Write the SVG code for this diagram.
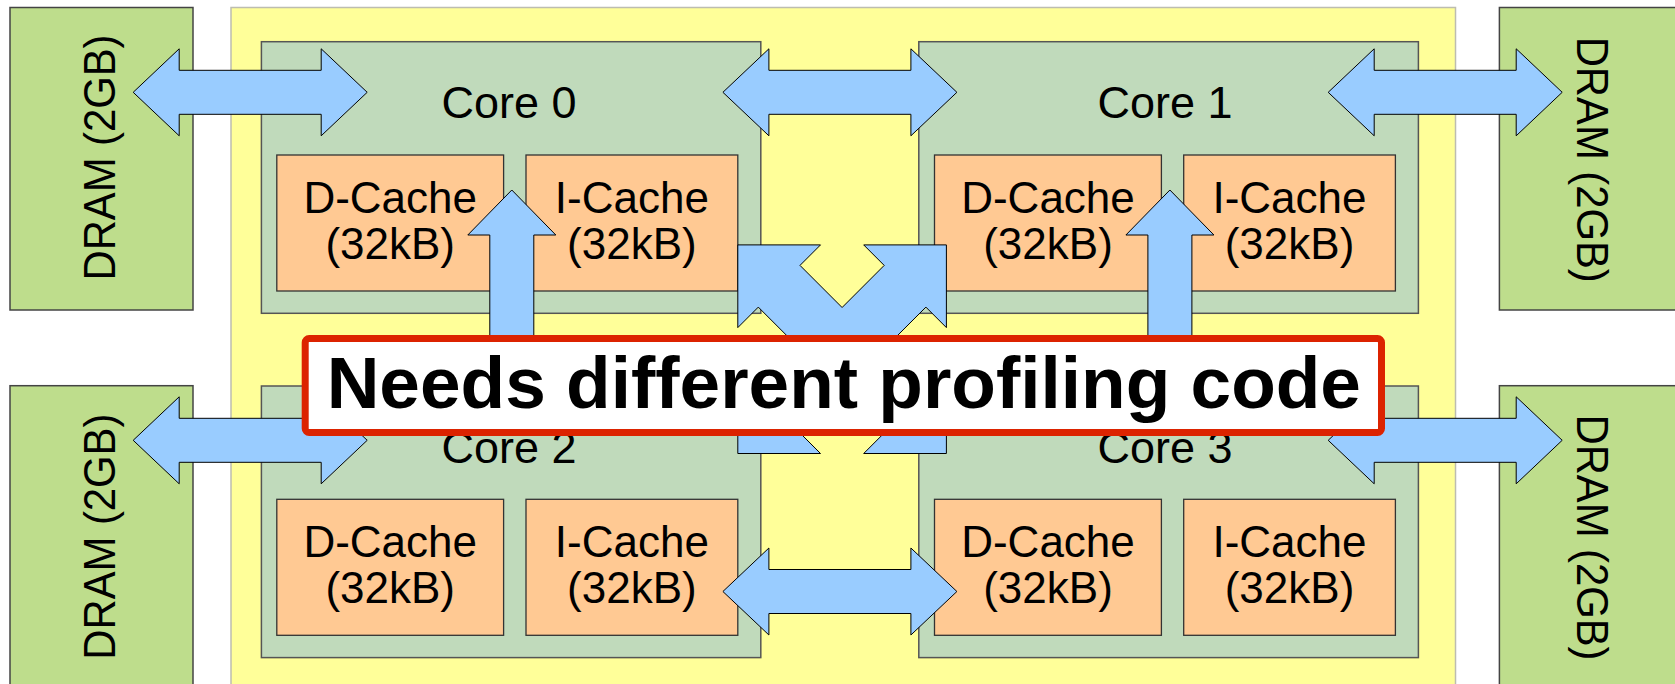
<svg xmlns="http://www.w3.org/2000/svg" xmlns:xlink="http://www.w3.org/1999/xlink" width="1675" height="684" viewBox="0 0 1675 684">
<style>
.chip{fill:#ffff99;stroke:#bdbdb0;stroke-width:1.5}
.dram{fill:#bedd8c;stroke:#444;stroke-width:1.5}
.core{fill:#c0dabb;stroke:#555;stroke-width:1.5}
.cache{fill:#ffc993;stroke:#333;stroke-width:1.3}
.arrow{fill:#99ccff;stroke:#000;stroke-width:1}
.t{font-family:"Liberation Sans",Arial,sans-serif;fill:#000;text-anchor:middle}
.tc{font-size:45px}
.tk{font-size:44px}
.td{font-size:45px}
.lbl{fill:#fff;stroke:#dc2300;stroke-width:7}
.tl{font-family:"Liberation Sans",Arial,sans-serif;font-weight:bold;font-size:73px;text-anchor:middle;fill:#000}
</style>
<defs>
<path id="harrow" d="M0,0 L46,-43.5 L46,-22 L188,-22 L188,-43.5 L234,0 L188,43.5 L188,22 L46,22 L46,43.5 Z"/>
<path id="varrow" d="M0,0 L44,45 L22,45 L22,230 L-22,230 L-22,45 L-44,45 Z"/>
</defs>
<rect id="chip" class="chip" x="231" y="7.5" width="1224.5" height="690"/>
<g id="dram0"><rect class="dram" x="10" y="7.5" width="183" height="302.5"/><text class="t td" transform="translate(115,157.5) rotate(-90)" textLength="246" lengthAdjust="spacingAndGlyphs">DRAM (2GB)</text></g>
<g id="dram1"><rect class="dram" x="1499.4" y="7.5" width="183" height="302.5"/><text class="t td" transform="translate(1576.6,159.7) rotate(90)" textLength="246" lengthAdjust="spacingAndGlyphs">DRAM (2GB)</text></g>
<g id="dram2"><rect class="dram" x="10" y="385.7" width="183" height="302.5"/><text class="t td" transform="translate(115,536.7) rotate(-90)" textLength="246" lengthAdjust="spacingAndGlyphs">DRAM (2GB)</text></g>
<g id="dram3"><rect class="dram" x="1499.4" y="385.7" width="183" height="302.5"/><text class="t td" transform="translate(1576.6,537.5) rotate(90)" textLength="246" lengthAdjust="spacingAndGlyphs">DRAM (2GB)</text></g>
<g id="core0"><rect class="core" x="261.4" y="41.7" width="499.4" height="271.6"/><text class="t tc" x="509" y="118.3">Core 0</text></g>
<g id="core1"><rect class="core" x="918.8" y="41.7" width="499.6" height="271.6"/><text class="t tc" x="1165" y="118.3">Core 1</text></g>
<g id="core2"><rect class="core" x="261.4" y="386" width="499.4" height="271.6"/><text class="t tc" x="509" y="462.6">Core 2</text></g>
<g id="core3"><rect class="core" x="918.8" y="386" width="499.6" height="271.6"/><text class="t tc" x="1165" y="462.6">Core 3</text></g>
<g id="dcache0"><rect class="cache" x="276.8" y="155" width="226.8" height="136"/><text class="t tk" x="390.2" y="212.7">D-Cache</text><text class="t tk" x="390.2" y="258.5">(32kB)</text></g>
<g id="icache0"><rect class="cache" x="526" y="155" width="211.8" height="136"/><text class="t tk" x="631.9" y="212.7">I-Cache</text><text class="t tk" x="631.9" y="258.5">(32kB)</text></g>
<g id="dcache1"><rect class="cache" x="934.5" y="155" width="226.9" height="136"/><text class="t tk" x="1048" y="212.7">D-Cache</text><text class="t tk" x="1048" y="258.5">(32kB)</text></g>
<g id="icache1"><rect class="cache" x="1183.7" y="155" width="211.7" height="136"/><text class="t tk" x="1289.5" y="212.7">I-Cache</text><text class="t tk" x="1289.5" y="258.5">(32kB)</text></g>
<g id="dcache2"><rect class="cache" x="276.8" y="499.3" width="226.8" height="136"/><text class="t tk" x="390.2" y="557">D-Cache</text><text class="t tk" x="390.2" y="602.8">(32kB)</text></g>
<g id="icache2"><rect class="cache" x="526" y="499.3" width="211.8" height="136"/><text class="t tk" x="631.9" y="557">I-Cache</text><text class="t tk" x="631.9" y="602.8">(32kB)</text></g>
<g id="dcache3"><rect class="cache" x="934.5" y="499.3" width="226.9" height="136"/><text class="t tk" x="1048" y="557">D-Cache</text><text class="t tk" x="1048" y="602.8">(32kB)</text></g>
<g id="icache3"><rect class="cache" x="1183.7" y="499.3" width="211.7" height="136"/><text class="t tk" x="1289.5" y="557">I-Cache</text><text class="t tk" x="1289.5" y="602.8">(32kB)</text></g>
<g id="connectors">
<use xlink:href="#harrow" href="#harrow" class="arrow" transform="translate(133.2,92.3)"/>
<use xlink:href="#harrow" href="#harrow" class="arrow" transform="translate(722.9,92.3)"/>
<use xlink:href="#harrow" href="#harrow" class="arrow" transform="translate(1328.2,92.3)"/>
<use xlink:href="#harrow" href="#harrow" class="arrow" transform="translate(133.2,440.3)"/>
<use xlink:href="#harrow" href="#harrow" class="arrow" transform="translate(1328.2,440.3)"/>
<use xlink:href="#harrow" href="#harrow" class="arrow" transform="translate(722.9,591.5)"/>
<use xlink:href="#varrow" href="#varrow" class="arrow" transform="translate(511.8,190)"/>
<use xlink:href="#varrow" href="#varrow" class="arrow" transform="translate(1169.9,190)"/>
<polygon class="arrow" points="737.8,244.9 820.5,244.9 800,265.4 842.1,307.5 884.2,265.4 863.7,244.9 946.4,244.9 946.4,327.6 925.9,307.1 883.8,349.2 925.9,391.3 946.4,370.8 946.4,453.5 863.7,453.5 884.2,433 842.1,390.9 800,433 820.5,453.5 737.8,453.5 737.8,370.8 758.3,391.3 800.4,349.2 758.3,307.1 737.8,327.6"/>
</g>
<g id="label"><rect class="lbl" x="305.2" y="338.5" width="1076.3" height="94" rx="4"/><text class="tl" x="843.8" y="408.3">Needs different profiling code</text></g>
</svg>
